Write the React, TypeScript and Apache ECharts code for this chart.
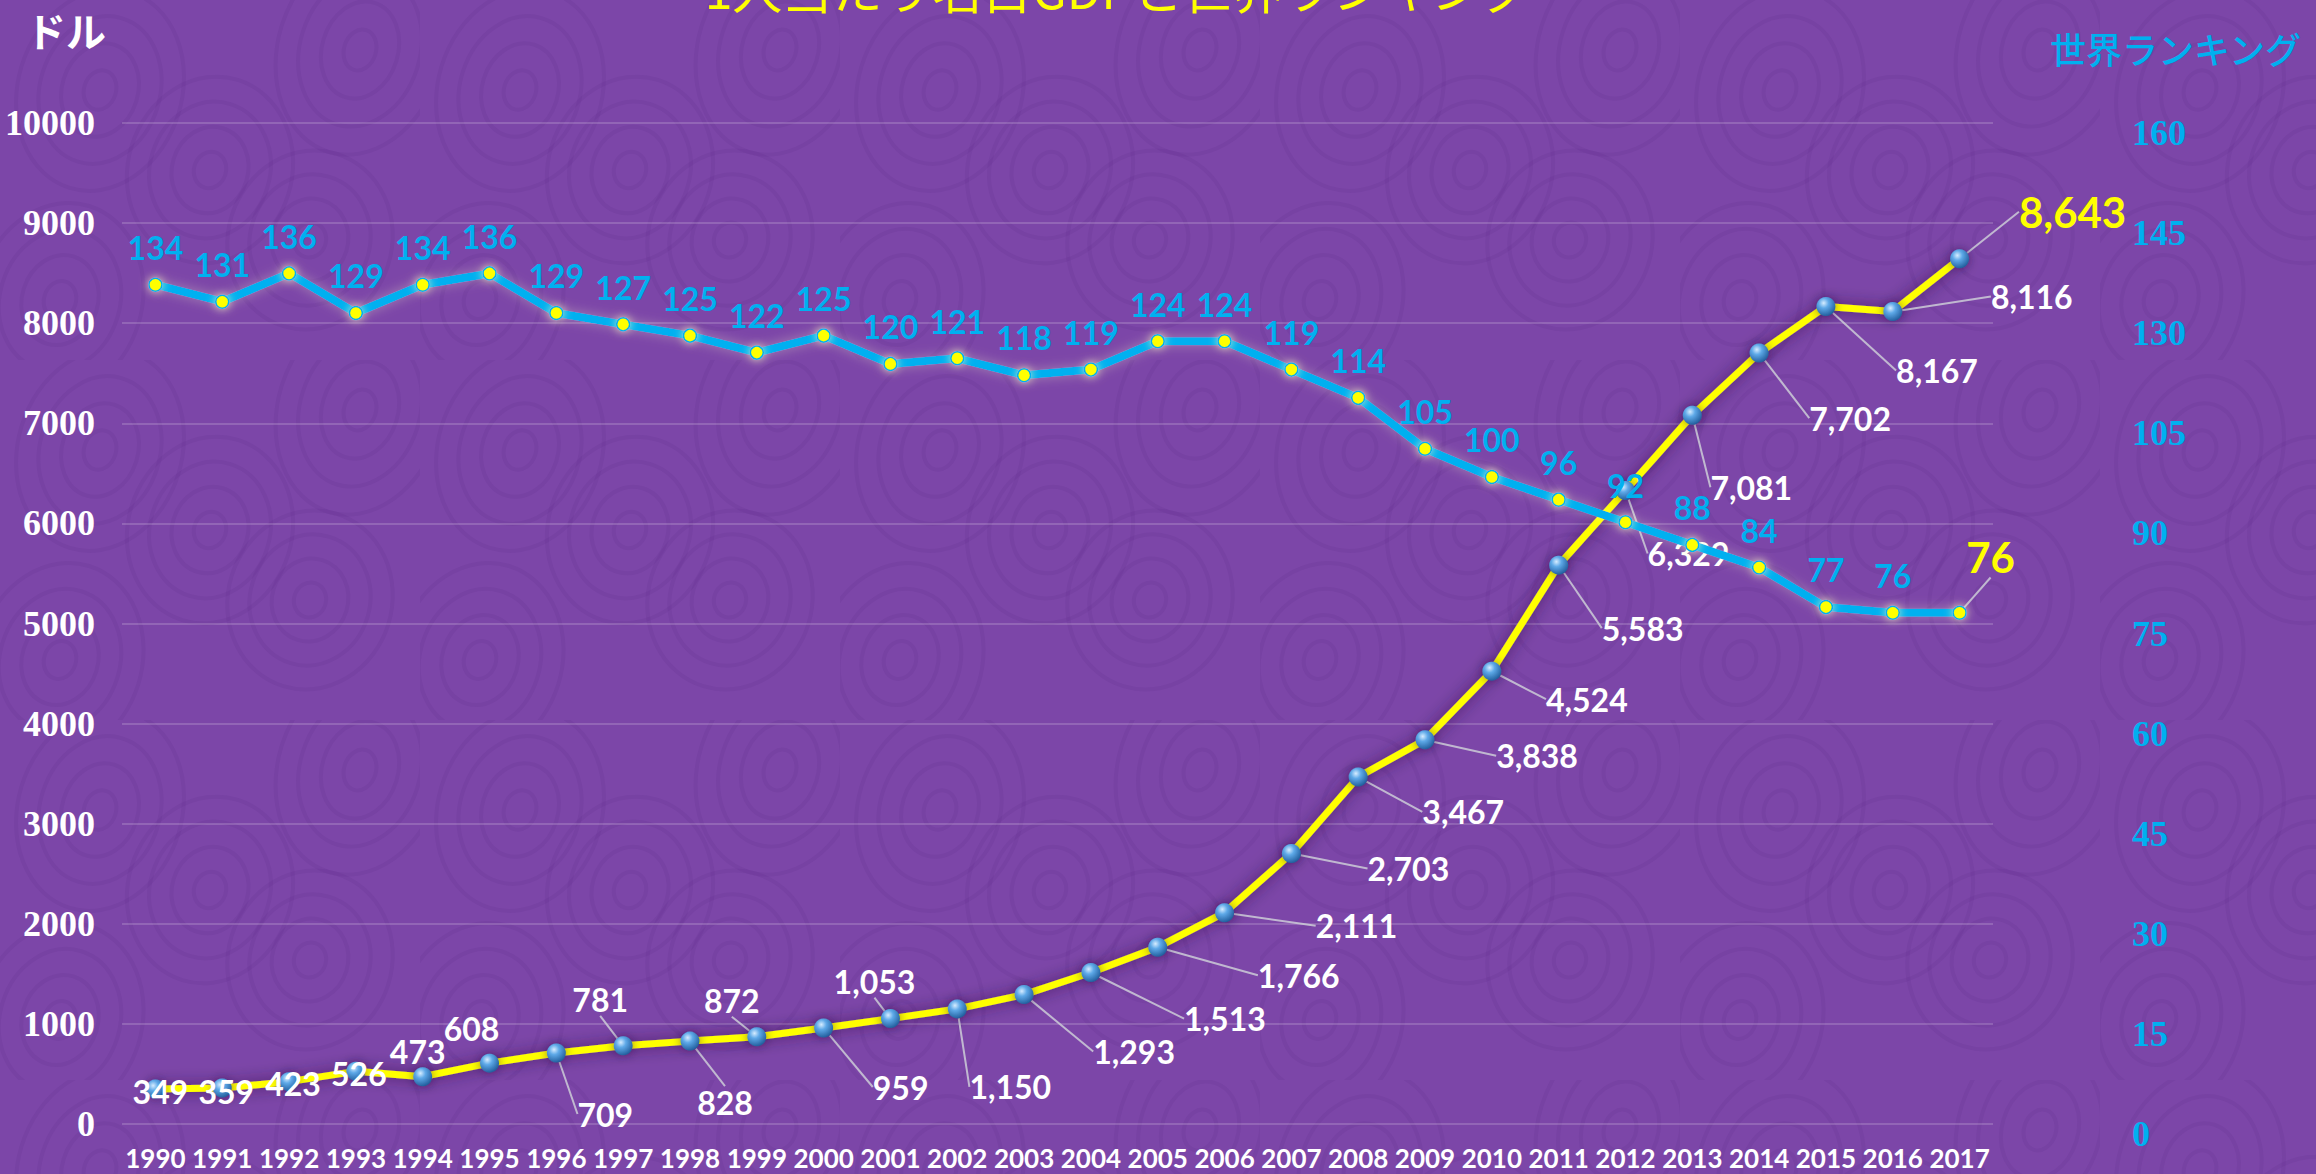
import React, { useEffect, useRef } from 'react';
import * as echarts from 'echarts';

const years = ['1990','1991','1992','1993','1994','1995','1996','1997','1998','1999','2000','2001','2002','2003','2004','2005','2006','2007','2008','2009','2010','2011','2012','2013','2014','2015','2016','2017'];
const gdp = [349,359,423,526,473,608,709,781,828,872,959,1053,1150,1293,1513,1766,2111,2703,3467,3838,4524,5583,6329,7081,7702,8167,8116,8643];
const rank = [134,131,136,129,134,136,129,127,125,122,125,120,121,118,119,124,124,119,114,105,100,96,92,88,84,77,76,76];
const rightTickLabels = ['0','15','30','45','60','75','90','105','130','145','160'];

// label placement offsets (px) relative to the point, for the GDP series
const gdpLabelOffsets = [[5,2],[4,3],[4,2],[3,2],[-5,-25],[-18,-35],[49,61],[-23,-46],[35,61],[-25,-36],[77,59],[-16,-37],[53,78],[110,57],[134,46],[141,28],[132,13],[117,15],[105,35],[112,16],[95,28],[84,63],[63,63],[59,72],[91,65],[111,64],[139,-15],[113,-47]];
const rankLastOffset = [31, -14];

const R_MIN = -14.4;
const R_INT = 17.7;
const R_MAX = 162.6;

function makePattern(): HTMLCanvasElement {
  const c = document.createElement('canvas');
  c.width = 420;
  c.height = 360;
  const g = c.getContext('2d')!;
  g.strokeStyle = 'rgba(92,42,138,0.16)';
  g.lineWidth = 4;
  const centers = [[100, 90, 1.25], [310, 240, 1.1], [360, 50, 1.3], [60, 300, 1.2], [210, 170, 1.15]];
  for (const [cx, cy, k] of centers) {
    for (let r = 16; r <= 86; r += 22) {
      g.beginPath();
      g.ellipse(cx, cy, r, r * k, 0.3, 0, Math.PI * 2);
      g.stroke();
    }
  }
  return c;
}

export default function App() {
  const ref = useRef<HTMLDivElement>(null);
  useEffect(() => {
    if (!ref.current) return;
    const chart = echarts.init(ref.current, null, { renderer: 'svg' });
    const labelFont = 'Lato, "Open Sans", sans-serif';
    const axisFont = '"Liberation Serif", serif';
    const last = gdp.length - 1;
    const gdpData = gdp.map((v, i) => ({
      value: v,
      label: i === last ? { color: '#ffff00', fontSize: 42 } : undefined,
      labelLine: { show: i >= 6 },
    }));
    const rankData = rank.map((v, i) => ({
      value: v,
      label: i === rank.length - 1 ? { color: '#ffff00', fontSize: 42 } : undefined,
      labelLine: { show: i === rank.length - 1 },
    }));
    chart.setOption({
      animation: false,
      backgroundColor: '#7c46a8',
      grid: { left: 122, right: 323, top: 123, bottom: 50 },
      graphic: [
        {
          type: 'rect', z: -100, silent: true,
          shape: { x: 0, y: 0, width: 2316, height: 1174 },
          style: { fill: { image: makePattern(), repeat: 'repeat' } as any },
        },
        {
          type: 'text', x: 1118, y: -13,
          style: {
            text: '1人当たり名目GDPと世界ランキング', fill: '#ffff00',
            font: '50px "Noto Sans CJK JP"', align: 'center', verticalAlign: 'middle',
            shadowColor: 'rgba(0,0,0,0.5)', shadowOffsetX: 2, shadowOffsetY: 2, shadowBlur: 2,
          },
        },
        {
          type: 'text', x: 26, y: 10,
          style: { text: 'ドル', fill: '#ffffff', font: 'bold 40px "Noto Sans CJK JP"', verticalAlign: 'top' },
        },
        {
          type: 'text', x: 2050, y: 30,
          style: { text: '世界ランキング', fill: '#00b0f0', font: '500 36px "Noto Sans CJK JP"', verticalAlign: 'top' },
        },
      ],
      xAxis: {
        type: 'category', data: years, boundaryGap: true,
        axisLine: { show: false }, axisTick: { show: false },
        axisLabel: { color: '#ffffff', fontFamily: labelFont, fontWeight: 'bold', fontSize: 26, margin: 21, interval: 0 },
      },
      yAxis: [
        {
          type: 'value', min: 0, max: 10000, interval: 1000,
          axisLine: { show: false }, axisTick: { show: false },
          axisLabel: {
            color: '#ffffff', fontFamily: axisFont, fontWeight: 'bold', fontSize: 36, margin: 27,
            formatter: (v: number) => String(v),
          },
          splitLine: { lineStyle: { color: 'rgba(255,255,255,0.17)', width: 2 } },
        },
        {
          type: 'value', position: 'right', min: R_MIN, max: R_MAX, interval: R_INT,
          axisLine: { show: false }, axisTick: { show: false }, splitLine: { show: false },
          axisLabel: {
            color: '#00b0f0', fontFamily: axisFont, fontWeight: 'bold', fontSize: 36, margin: 139,
            verticalAlign: 'top', lineHeight: 20,
            formatter: (v: number) => rightTickLabels[Math.round((v - R_MIN) / R_INT)] ?? '',
          },
        },
      ],
      series: [
        {
          type: 'line', yAxisIndex: 0, data: gdpData, z: 2,
          symbol: 'circle', symbolSize: 19, showAllSymbol: true,
          lineStyle: { color: '#ffff00', width: 7, shadowColor: 'rgba(40,10,60,0.7)', shadowBlur: 16 },
          itemStyle: {
            color: {
              type: 'radial', x: 0.38, y: 0.32, r: 0.75,
              colorStops: [
                { offset: 0, color: '#d6ecff' },
                { offset: 0.35, color: '#5ea9e8' },
                { offset: 1, color: '#1a5594' },
              ],
            },
            shadowColor: 'rgba(40,10,60,0.5)', shadowBlur: 10,
          },
          label: {
            show: true, position: 'inside', color: '#ffffff', fontFamily: labelFont,
            fontWeight: 'bold', fontSize: 32,
            formatter: (p: any) => gdp[p.dataIndex].toLocaleString('en-US'),
          },
          labelLine: { lineStyle: { color: 'rgba(205,205,215,0.85)', width: 2 } },
          labelLayout: (p: any) => {
            const o = gdpLabelOffsets[p.dataIndex];
            return { dx: o[0], dy: o[1] };
          },
        },
        {
          type: 'line', yAxisIndex: 1, data: rankData, z: 3,
          symbol: 'circle', symbolSize: 13, showAllSymbol: true,
          lineStyle: { color: '#00b0f0', width: 8, shadowColor: 'rgba(255,255,200,0.35)', shadowBlur: 12 },
          itemStyle: {
            color: '#ffff00', borderColor: '#00b0f0', borderWidth: 1.5,
            shadowColor: 'rgba(255,255,190,0.8)', shadowBlur: 10,
          },
          label: {
            show: true, position: 'top', distance: 14, color: '#00b0f0', fontFamily: labelFont,
            fontWeight: 'bold', fontSize: 32,
          },
          labelLine: { lineStyle: { color: 'rgba(205,205,215,0.85)', width: 2 } },
          labelLayout: (p: any) => {
            if (p.dataIndex === rank.length - 1) return { dx: rankLastOffset[0], dy: rankLastOffset[1] };
            return {};
          },
        },
      ],
    });
    return () => chart.dispose();
  }, []);
  return <div ref={ref} style={{ position: 'fixed', left: 0, top: 0, width: 2316, height: 1174 }} />;
}
